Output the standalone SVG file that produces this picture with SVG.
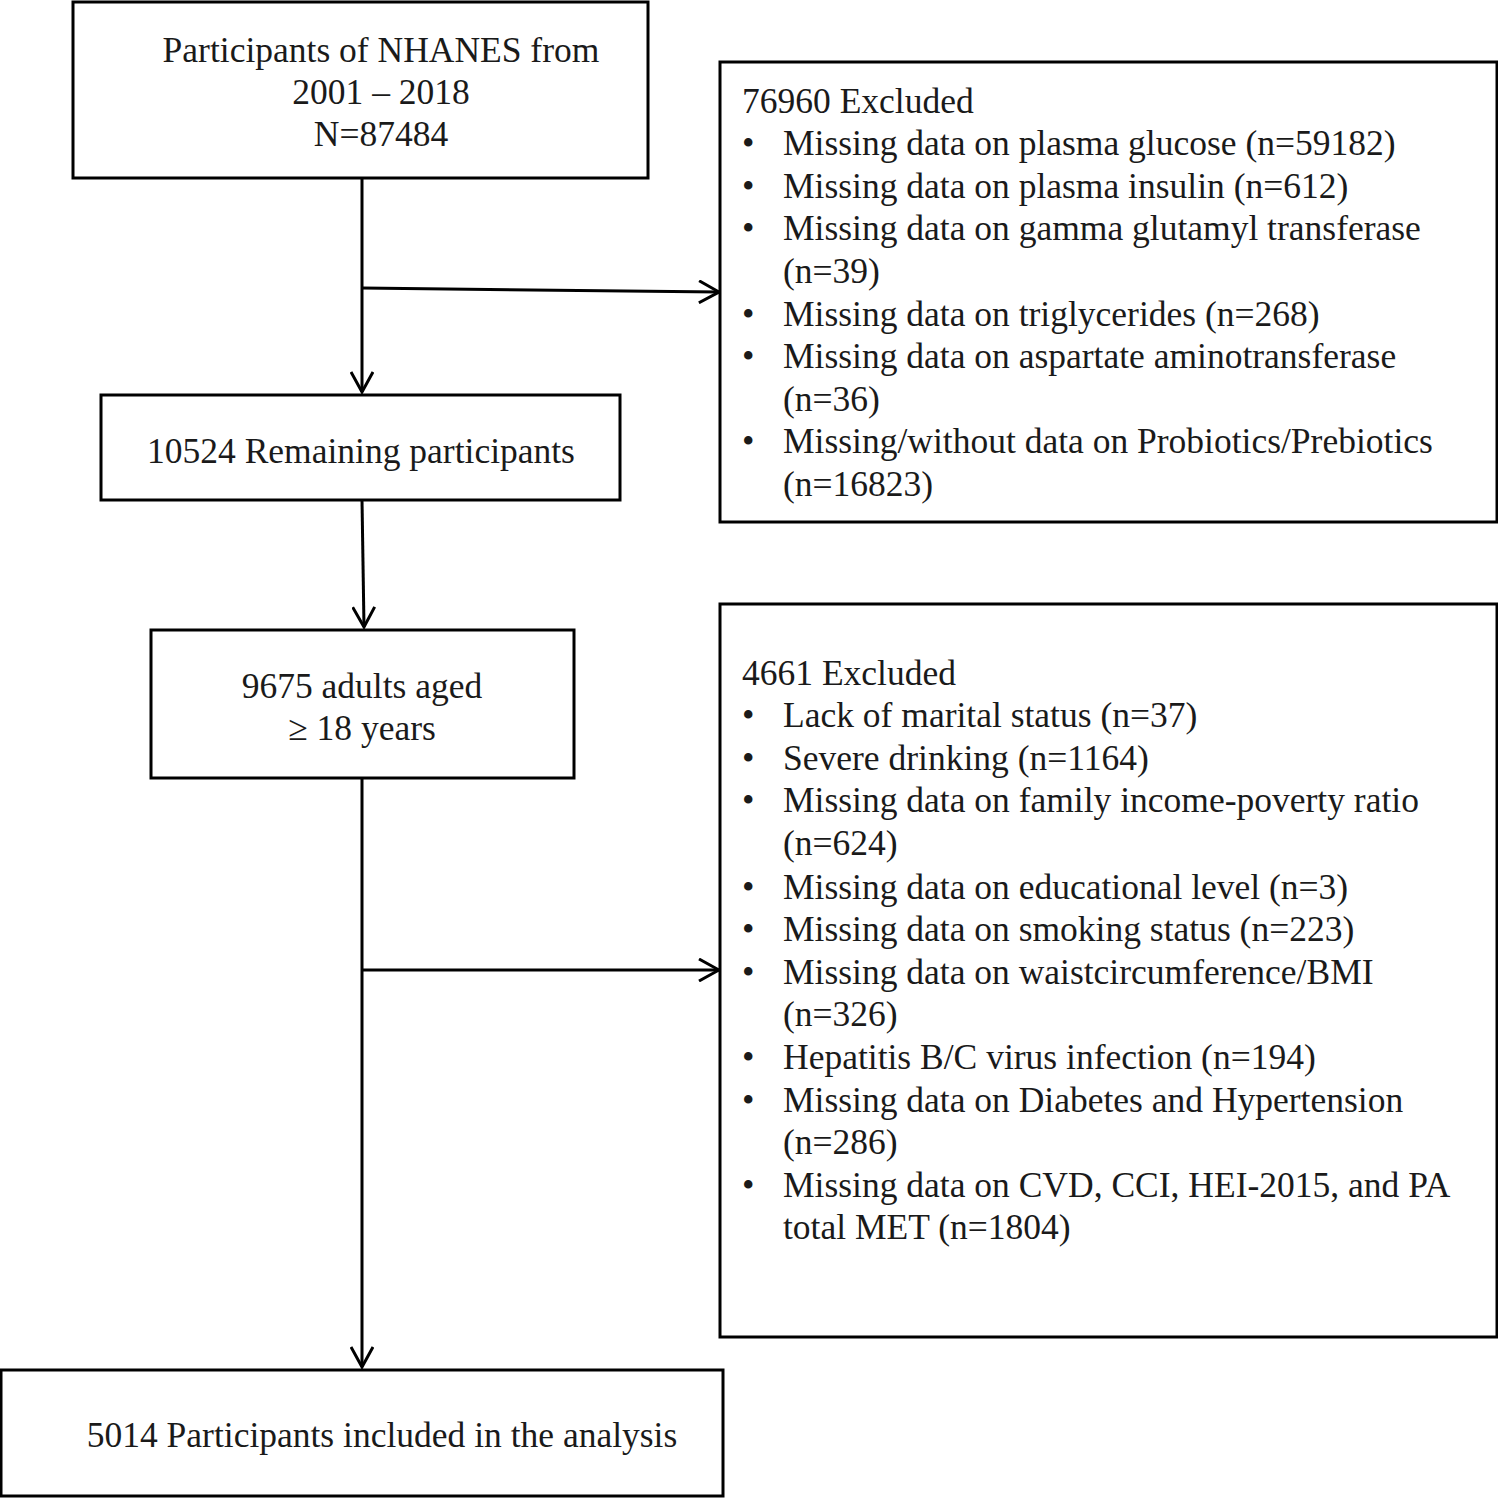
<svg xmlns="http://www.w3.org/2000/svg" width="1498" height="1498" viewBox="0 0 1498 1498">
<style>
.box{fill:#fff;stroke:#000;stroke-width:3}
.t{font-family:"Liberation Serif","Times New Roman",serif;font-size:35.5px;fill:#1a1a1a}
.c{text-anchor:middle}
.ln{fill:none;stroke:#000;stroke-width:3}
</style>
<defs>
<marker id="arr" viewBox="0 0 24 24" refX="22" refY="12" markerWidth="24" markerHeight="24" markerUnits="userSpaceOnUse" orient="auto">
<path d="M2 1 L22 12 L2 23" fill="none" stroke="#000" stroke-width="3"/>
</marker>
</defs>
<rect width="1498" height="1498" fill="#fff"/>
<g id="connectors">
<path class="ln" d="M362 178 L362 392" marker-end="url(#arr)"/>
<path class="ln" d="M362 288 L719 292" marker-end="url(#arr)"/>
<path class="ln" d="M362 500 L364 627" marker-end="url(#arr)"/>
<path class="ln" d="M362 778 L362 1367" marker-end="url(#arr)"/>
<path class="ln" d="M362 970 L719 970" marker-end="url(#arr)"/>
</g>
<g id="n1">
<rect class="box" x="73" y="2" width="575" height="176"/>
<text class="t c" x="381" y="62">Participants of NHANES from</text>
<text class="t c" x="381" y="104">2001 – 2018</text>
<text class="t c" x="381" y="146">N=87484</text>
</g>
<g id="ex1">
<rect class="box" x="720" y="62" width="777" height="460"/>
<text class="t" x="742" y="113">76960 Excluded</text>
<text class="t" x="742" y="155">•</text><text class="t" x="783" y="155">Missing data on plasma glucose (n=59182)</text>
<text class="t" x="742" y="198">•</text><text class="t" x="783" y="198">Missing data on plasma insulin (n=612)</text>
<text class="t" x="742" y="240">•</text><text class="t" x="783" y="240">Missing data on gamma glutamyl transferase</text>
<text class="t" x="783" y="283">(n=39)</text>
<text class="t" x="742" y="326">•</text><text class="t" x="783" y="326">Missing data on triglycerides (n=268)</text>
<text class="t" x="742" y="368">•</text><text class="t" x="783" y="368">Missing data on aspartate aminotransferase</text>
<text class="t" x="783" y="411">(n=36)</text>
<text class="t" x="742" y="453">•</text><text class="t" x="783" y="453">Missing/without data on Probiotics/Prebiotics</text>
<text class="t" x="783" y="496">(n=16823)</text>
</g>
<g id="n2">
<rect class="box" x="101" y="395" width="519" height="105"/>
<text class="t c" x="361" y="463">10524 Remaining participants</text>
</g>
<g id="n3">
<rect class="box" x="151" y="630" width="423" height="148"/>
<text class="t c" x="362" y="698">9675 adults aged</text>
<text class="t c" x="362" y="740">≥ 18 years</text>
</g>
<g id="ex2">
<rect class="box" x="720" y="604" width="777" height="733"/>
<text class="t" x="742" y="685">4661 Excluded</text>
<text class="t" x="742" y="727">•</text><text class="t" x="783" y="727">Lack of marital status (n=37)</text>
<text class="t" x="742" y="770">•</text><text class="t" x="783" y="770">Severe drinking (n=1164)</text>
<text class="t" x="742" y="812">•</text><text class="t" x="783" y="812">Missing data on family income-poverty ratio</text>
<text class="t" x="783" y="855">(n=624)</text>
<text class="t" x="742" y="899">•</text><text class="t" x="783" y="899">Missing data on educational level (n=3)</text>
<text class="t" x="742" y="941">•</text><text class="t" x="783" y="941">Missing data on smoking status (n=223)</text>
<text class="t" x="742" y="984">•</text><text class="t" x="783" y="984">Missing data on waistcircumference/BMI</text>
<text class="t" x="783" y="1026">(n=326)</text>
<text class="t" x="742" y="1069">•</text><text class="t" x="783" y="1069">Hepatitis B/C virus infection (n=194)</text>
<text class="t" x="742" y="1112">•</text><text class="t" x="783" y="1112">Missing data on Diabetes and Hypertension</text>
<text class="t" x="783" y="1154">(n=286)</text>
<text class="t" x="742" y="1197">•</text><text class="t" x="783" y="1197">Missing data on CVD, CCI, HEI-2015, and PA</text>
<text class="t" x="783" y="1239">total MET (n=1804)</text>
</g>
<g id="n4">
<rect class="box" x="1" y="1370" width="722" height="126"/>
<text class="t c" x="382" y="1447">5014 Participants included in the analysis</text>
</g>
</svg>
